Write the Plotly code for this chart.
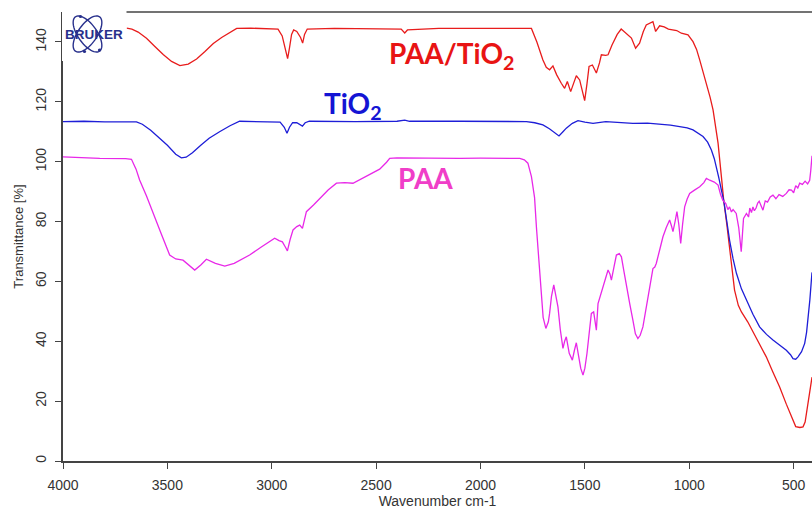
import numpy as np
import plotly.graph_objects as go

# ---- FTIR spectra: wavenumber (cm-1) and transmittance (%) ----
paa_tio2_wn = [3695, 3670, 3640, 3600, 3560, 3520, 3480, 3440, 3400, 3360, 3320, 3280, 3240, 3200,
               3168, 3100, 3000, 2970, 2950, 2935, 2924, 2915, 2905, 2895, 2880, 2862, 2852, 2843,
               2830, 2700, 2500, 2380, 2363, 2350, 2200, 2000, 1800, 1756, 1730, 1701, 1685, 1669,
               1653, 1635, 1613, 1597, 1584, 1568, 1555, 1541, 1525, 1512, 1501, 1490, 1480, 1464,
               1445, 1430, 1421, 1400, 1389, 1370, 1345, 1326, 1302, 1277, 1257, 1238, 1220, 1206,
               1174, 1161, 1142, 1120, 1100, 1078, 1060, 1038, 1006, 982, 965, 950, 935, 918, 900,
               886, 875, 862, 846, 835, 820, 807, 795, 783, 765, 750, 720, 695, 660, 631, 600, 567,
               535, 503, 490, 470, 455, 445, 439, 428, 415, 412]
paa_tio2_t = [144.6, 144.3, 143.3, 141.2, 138.5, 135.8, 133.5, 132.1, 132.6, 134.3, 136.8, 139.5,
              141.5, 143.2, 144.5, 144.6, 144.5, 144.3, 142.0, 137.0, 134.4, 138.0, 142.5, 144.0,
              143.5, 141.5, 139.6, 142.5, 144.3, 144.5, 144.4, 144.3, 143.0, 144.0, 144.5, 144.6,
              144.6, 144.5, 140.0, 134.0, 131.5, 130.7, 132.0, 129.0, 126.2, 124.5, 126.8, 123.4,
              126.0, 128.7, 127.3, 124.0, 120.4, 126.0, 131.8, 132.3, 129.6, 133.0, 135.7, 135.5,
              135.7, 139.0, 142.5, 144.3, 142.9, 141.3, 137.9, 139.6, 143.5, 145.7, 146.8, 143.5,
              145.4, 145.0, 144.3, 144.0, 143.8, 142.9, 142.4, 140.1, 137.5, 134.0, 130.5, 126.2,
              121.5, 117.3, 112.0, 106.2, 95.0, 87.1, 79.0, 71.6, 64.0, 57.1, 52.0, 49.8, 46.5,
              43.1, 38.5, 34.8, 29.8, 24.7, 19.0, 13.6, 11.5, 11.2, 11.4, 13.0, 15.9, 21.0, 27.0,
              28.0]

tio2_wn = [4000, 3900, 3800, 3700, 3648, 3620, 3580, 3540, 3500, 3460, 3433, 3410, 3380, 3340,
           3300, 3250, 3200, 3154, 3100, 3000, 2960, 2940, 2927, 2915, 2900, 2880, 2865, 2853,
           2840, 2820, 2600, 2400, 2363, 2340, 2100, 1908, 1780, 1740, 1701, 1670, 1653, 1624,
           1605, 1589, 1560, 1533, 1500, 1461, 1400, 1330, 1270, 1200, 1142, 1090, 1046, 1010,
           982, 960, 934, 912, 894, 880, 870, 858, 846, 835, 820, 807, 790, 774, 750, 726, 695,
           663, 630, 599, 565, 535, 515, 503, 490, 479, 462, 447, 438, 431, 422, 415, 412]
tio2_t = [113.4, 113.5, 113.3, 113.4, 113.3, 112.5, 110.5, 108.0, 105.5, 102.5, 101.3, 101.5,
          103.0, 105.5, 107.8, 110.0, 112.0, 113.5, 113.4, 113.4, 113.2, 111.5, 109.5, 111.5,
          113.0, 113.0, 112.3, 111.9, 113.0, 113.5, 113.4, 113.5, 113.9, 113.5, 113.5, 113.4,
          113.4, 113.0, 112.3, 111.0, 110.0, 108.6, 110.0, 111.2, 112.8, 113.7, 113.2, 112.8,
          113.4, 113.2, 112.8, 112.9, 112.6, 112.2, 111.7, 111.3, 110.6, 109.6, 108.4, 106.5,
          103.9, 101.0, 98.3, 94.5, 90.5, 87.1, 80.0, 73.8, 67.5, 62.7, 57.5, 53.7, 49.0, 44.8,
          42.3, 40.4, 38.5, 37.0, 35.5, 34.2, 34.0, 34.8, 36.5, 39.3, 43.0, 47.1, 54.0, 60.4,
          63.0]

paa_wn = [4000, 3900, 3824, 3700, 3672, 3650, 3633, 3600, 3569, 3530, 3489, 3460, 3425, 3400,
          3369, 3340, 3313, 3270, 3225, 3180, 3150, 3106, 3050, 3000, 2986, 2965, 2949, 2935,
          2925, 2912, 2898, 2880, 2866, 2853, 2840, 2834, 2800, 2770, 2730, 2690, 2650, 2611,
          2580, 2547, 2483, 2450, 2435, 2400, 2300, 2200, 2100, 2000, 1900, 1812, 1790, 1773,
          1756, 1741, 1732, 1717, 1708, 1700, 1687, 1675, 1669, 1660, 1649, 1640, 1629, 1618,
          1605, 1597, 1589, 1575, 1560, 1550, 1541, 1530, 1520, 1509, 1500, 1490, 1480, 1469,
          1458, 1450, 1445, 1437, 1425, 1413, 1400, 1389, 1380, 1373, 1360, 1349, 1335, 1325,
          1312, 1301, 1285, 1270, 1258, 1246, 1235, 1222, 1210, 1198, 1185, 1174, 1165, 1158,
          1140, 1126, 1110, 1094, 1085, 1078, 1068, 1059, 1050, 1041, 1032, 1022, 1010, 998,
          975, 950, 930, 918, 902, 880, 862, 850, 839, 825, 815, 807, 798, 790, 775, 763, 757,
          751, 745, 740, 726, 716, 710, 702, 695, 688, 680, 672, 665, 656, 647, 636, 625, 612,
          599, 585, 570, 552, 535, 522, 510, 500, 490, 480, 471, 458, 445, 433, 423, 418, 415,
          412]
paa_t = [101.6, 101.3, 101.1, 101.0, 100.8, 97.5, 93.9, 88.5, 82.7, 76.0, 68.8, 67.5, 67.1,
         65.5, 63.8, 65.5, 67.4, 66.0, 65.1, 66.0, 67.2, 68.8, 71.5, 73.8, 74.4, 73.6, 73.2,
         71.5, 70.2, 74.0, 77.2, 78.3, 78.8, 77.7, 81.0, 83.3, 85.5, 87.8, 90.5, 92.8, 93.0,
         92.8, 94.0, 95.2, 97.5, 99.8, 101.1, 101.3, 101.2, 101.3, 101.1, 101.2, 101.1, 101.1,
         100.6, 99.5, 95.0, 88.0, 78.0, 64.0, 54.8, 48.0, 44.3, 46.5, 49.3, 55.0, 58.8, 56.0,
         51.5, 44.0, 37.6, 40.0, 41.5, 36.0, 33.7, 37.0, 39.5, 35.0, 31.0, 28.7, 31.0, 35.9,
         43.0, 49.3, 49.8, 46.0, 43.7, 52.6, 55.5, 58.2, 61.0, 63.8, 62.5, 60.4, 65.0, 68.8,
         69.3, 68.2, 63.0, 58.2, 52.5, 47.1, 42.5, 40.9, 42.0, 44.8, 49.5, 54.8, 60.0, 64.3,
         64.8, 66.0, 71.0, 74.9, 78.0, 80.5, 78.5, 76.6, 80.0, 83.3, 79.0, 72.7, 79.0, 84.9,
         87.5, 89.4, 90.5, 91.6, 93.0, 94.4, 93.8, 93.2, 92.2, 89.0, 87.1, 86.0, 84.0, 84.9,
         83.2, 84.0, 82.7, 78.0, 74.0, 69.9, 76.0, 81.0, 82.7, 81.5, 84.5, 83.0, 84.9, 83.6,
         84.5, 86.2, 86.8, 85.0, 83.8, 86.9, 86.5, 88.2, 88.8, 87.6, 89.0, 88.4, 89.4, 90.6,
         90.5, 89.6, 92.0, 91.2, 92.8, 92.4, 93.5, 92.6, 93.8, 97.0, 101.7, 102.0]

# ---- axis ticks ----
x_ticks = [4000, 3500, 3000, 2500, 2000, 1500, 1000, 500]
y_ticks = [0, 20, 40, 60, 80, 100, 120, 140]

W, H = 812, 514
ML, MR, MT, MB = 63, 0, 12, 53
PW, PH = W - ML - MR, H - MT - MB


def px(x):
    return (x - ML) / PW


def py(y):
    return (H - MB - y) / PH


fig = go.Figure()
fig.add_trace(go.Scatter(x=paa_tio2_wn, y=paa_tio2_t, mode="lines",
                         line=dict(color="rgb(232,28,28)", width=1.3), name="PAA/TiO2"))
fig.add_trace(go.Scatter(x=tio2_wn, y=tio2_t, mode="lines",
                         line=dict(color="rgb(30,30,215)", width=1.3), name="TiO2"))
fig.add_trace(go.Scatter(x=paa_wn, y=paa_t, mode="lines",
                         line=dict(color="rgb(232,40,232)", width=1.3), name="PAA"))

axis_col = "#444444"
tick_font = dict(family="Liberation Sans, Arial, sans-serif", size=14, color="#333333")

fig.update_layout(
    width=W, height=H,
    margin=dict(l=ML, r=MR, t=MT, b=MB),
    paper_bgcolor="white", plot_bgcolor="white",
    showlegend=False,
    xaxis=dict(range=[4000, 412], tickvals=x_ticks, ticks="outside", ticklen=6,
               tickwidth=1.3, tickcolor=axis_col, showline=True, linecolor=axis_col,
               linewidth=1.5, showgrid=False, zeroline=False, tickfont=tick_font,
               ticklabelstandoff=4,
               title=dict(text="Wavenumber cm-1", standoff=0,
                          font=dict(family="Liberation Sans, Arial, sans-serif", size=14,
                                    color="#333333"))),
    yaxis=dict(range=[0, 150], tickvals=y_ticks, ticks="outside", ticklen=6,
               tickwidth=1.3, tickcolor=axis_col, showline=True, linecolor=axis_col,
               linewidth=1.5, showgrid=False, zeroline=False, tickfont=tick_font,
               tickangle=-90, ticklabelstandoff=4,
               title=dict(text="Transmittance [%]", standoff=6,
                          font=dict(family="Liberation Sans, Arial, sans-serif", size=13,
                                    color="#333333"))),
)

# top frame line
fig.add_shape(type="line", xref="paper", yref="paper", x0=0, x1=1, y0=1, y1=1,
              line=dict(color=axis_col, width=1.5), layer="above")

# Bruker logo block (white backing, two orbit ellipses, dots and wordmark)
fig.add_shape(type="rect", xref="paper", yref="paper", x0=px(62), x1=px(126.5),
              y0=py(61), y1=py(-2), fillcolor="white", line=dict(width=0), layer="above")
navy = "rgb(40,48,140)"
cx, cy, a, b = 87.5, 34.0, 21.0, 9.5
for ang in (55, -55):
    th = np.linspace(0, 2 * np.pi, 60)
    r = np.deg2rad(ang)
    xs = cx + a * np.cos(th) * np.cos(r) - b * np.sin(th) * np.sin(r)
    ys = cy + a * np.cos(th) * np.sin(r) + b * np.sin(th) * np.cos(r)
    path = "M " + " L ".join(f"{px(u):.5f},{py(v):.5f}" for u, v in zip(xs, ys)) + " Z"
    fig.add_shape(type="path", xref="paper", yref="paper", path=path,
                  line=dict(color=navy, width=1.4), layer="above")
for dx, dy in ((80.5, 16.5), (84.5, 51.5), (99.5, 50.0)):
    fig.add_shape(type="circle", xref="paper", yref="paper", x0=px(dx - 1.6), x1=px(dx + 1.6),
                  y0=py(dy + 1.6), y1=py(dy - 1.6), fillcolor=navy, line=dict(width=0),
                  layer="above")
fig.add_annotation(text="<b>BRUKER</b>", xref="paper", yref="paper", x=px(94), y=py(35),
                   xanchor="center", yanchor="middle", showarrow=False,
                   font=dict(family="Liberation Sans, Arial, sans-serif", size=13.5, color=navy))

# sample labels
lab_font = "Lato, Open Sans, sans-serif"
fig.add_annotation(text="<b>PAA/TiO<sub>2</sub></b>", x=2449, y=135.7, xref="x", yref="y",
                   xanchor="left", yanchor="middle", showarrow=False,
                   font=dict(family=lab_font, size=28, color="rgb(232,20,20)"))
fig.add_annotation(text="<b>TiO<sub>2</sub></b>", x=2757, y=119, xref="x", yref="y",
                   xanchor="left", yanchor="middle", showarrow=False,
                   font=dict(family=lab_font, size=28, color="rgb(20,20,212)"))
fig.add_annotation(text="<b>PAA</b>", x=2403, y=94.7, xref="x", yref="y",
                   xanchor="left", yanchor="middle", showarrow=False,
                   font=dict(family=lab_font, size=28, color="rgb(240,62,200)"))

fig.write_html("out.html")
